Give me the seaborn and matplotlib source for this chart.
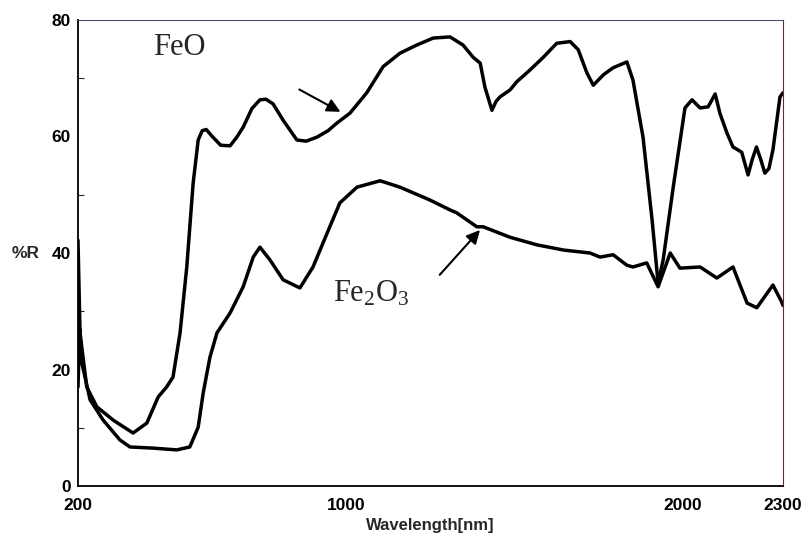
import matplotlib
matplotlib.use("Agg")
import matplotlib.pyplot as plt
import seaborn as sns
import pandas as pd

# FeO reflectance spectrum
feo_nm = [200, 206, 226, 256, 305, 364, 405, 439, 464, 483, 504, 524, 543, 558, 570, 582,
          600, 625, 653, 672, 692, 718, 742, 760, 781, 811, 852, 880, 912, 945, 971, 1010,
          1060, 1109, 1159, 1209, 1258, 1308, 1347, 1377, 1398, 1412, 1433, 1445, 1457,
          1487, 1507, 1546, 1586, 1626, 1666, 1690, 1716, 1735, 1765, 1794, 1835, 1853,
          1883, 1910, 1928, 1943, 1973, 2008, 2029, 2053, 2077, 2098, 2112, 2133, 2151,
          2177, 2196, 2208, 2221, 2234, 2246, 2258, 2270, 2291, 2300]
feo_r = [42.2, 26.3, 17.0, 13.6, 11.3, 9.1, 10.8, 15.3, 17.0, 18.7, 26.3, 37.6, 52.0,
         59.4, 61.0, 61.2, 60.0, 58.5, 58.4, 59.8, 61.6, 64.8, 66.3, 66.4, 65.6, 62.8,
         59.4, 59.2, 59.9, 61.0, 62.3, 64.0, 67.5, 72.0, 74.3, 75.7, 76.9, 77.1, 75.7,
         73.6, 72.6, 68.5, 64.5, 66.0, 66.8, 68.0, 69.4, 71.4, 73.6, 76.0, 76.3, 74.9,
         70.9, 68.8, 70.6, 71.8, 72.8, 69.7, 59.9, 45.7, 34.8, 38.8, 51.3, 64.9, 66.3,
         64.9, 65.1, 67.3, 64.0, 60.6, 58.2, 57.3, 53.4, 56.0, 58.2, 56.0, 53.7, 54.5,
         57.7, 66.8, 67.5]

# Fe2O3 reflectance spectrum
fe2o3_nm = [200, 205, 212, 236, 275, 325, 355, 424, 494, 533, 558, 573, 593, 614, 653,
            692, 722, 742, 772, 811, 861, 900, 942, 980, 1031, 1100, 1159, 1228, 1248,
            1308, 1328, 1388, 1407, 1487, 1567, 1647, 1725, 1755, 1794, 1835, 1853, 1894,
            1928, 1964, 1993, 2053, 2103, 2151, 2193, 2222, 2270, 2296, 2300]
fe2o3_r = [17.0, 27.0, 21.0, 14.8, 11.3, 7.9, 6.7, 6.5, 6.2, 6.7, 10.1, 16.0, 22.1,
           26.3, 29.7, 34.2, 39.3, 41.0, 38.8, 35.4, 34.0, 37.6, 43.4, 48.6, 51.3, 52.4,
           51.3, 49.6, 49.1, 47.4, 46.9, 44.5, 44.5, 42.7, 41.4, 40.5, 40.0, 39.3, 39.7,
           37.9, 37.6, 38.3, 34.2, 40.0, 37.4, 37.6, 35.7, 37.6, 31.4, 30.6, 34.5, 31.6,
           31.0]

x_major = [200, 500, 1000, 1500, 2000, 2300]
x_labels = ["200", "", "1000", "", "2000", "2300"]
y_major = [0, 20, 40, 60, 80]
y_minor = [10, 30, 50, 70]

sns.set_style("white")
plt.rcParams["font.family"] = ["Liberation Sans", "DejaVu Sans"]
plt.rcParams["mathtext.fontset"] = "custom"
plt.rcParams["mathtext.rm"] = "Liberation Serif"
plt.rcParams["mathtext.it"] = "Liberation Serif"
plt.rcParams["mathtext.bf"] = "Liberation Serif"

fig = plt.figure(figsize=(8.11, 5.38), dpi=100)
ax = fig.add_axes([78 / 811, 52 / 538, 705 / 811, 466 / 538])

df_feo = pd.DataFrame({"nm": feo_nm, "R": feo_r})
df_fe2 = pd.DataFrame({"nm": fe2o3_nm, "R": fe2o3_r})
sns.lineplot(data=df_feo, x="nm", y="R", color="black", lw=2.5, ax=ax, sort=False)
sns.lineplot(data=df_fe2, x="nm", y="R", color="black", lw=2.5, ax=ax, sort=False)

ax.set_xlim(200, 2300)
ax.set_ylim(0, 80)
ax.set_xticks(x_major)
ax.set_xticklabels(x_labels)
ax.set_yticks(y_major)
ax.set_yticks(y_minor, minor=True)
ax.tick_params(axis="both", which="major", direction="in", length=7, width=1,
               labelsize=12.5, colors="black")
ax.tick_params(axis="x", which="major", pad=9)
ax.tick_params(axis="y", which="major", pad=5)
ax.tick_params(axis="y", which="minor", direction="in", length=4, width=0.8, left=True)
for lab in ax.get_xticklabels() + ax.get_yticklabels():
    lab.set_fontweight("bold")

ax.set_xlabel("Wavelength[nm]", fontsize=12, fontweight="bold", labelpad=3)
ax.set_ylabel("")
ax.text(-0.094, 0.5, "%R", transform=ax.transAxes, fontsize=12.5, fontweight="bold",
        ha="left", va="center")

for s in ["left", "bottom"]:
    ax.spines[s].set_color("black")
    ax.spines[s].set_linewidth(1.3)
ax.spines["top"].set_color("#4a4f66")
ax.spines["top"].set_linewidth(0.8)
ax.spines["right"].set_color("#6a2a2a")
ax.spines["right"].set_linewidth(0.8)

ax.text(423, 75.2, "FeO", fontsize=22, family=["Liberation Serif"], ha="left", va="center")
ax.annotate("", xy=(989, 64.0), xytext=(852, 68.3),
            arrowprops=dict(arrowstyle="-|>", color="black", lw=1.5, mutation_scale=20))
ax.text(960, 33.0, "Fe$_\\mathregular{2}$O$_\\mathregular{3}$", fontsize=22,
        family=["Liberation Serif"], ha="left", va="center")
ax.annotate("", xy=(1403, 44.3), xytext=(1272, 35.9),
            arrowprops=dict(arrowstyle="-|>", color="black", lw=1.5, mutation_scale=20))

fig.savefig("out.png", dpi=100, facecolor="white")
